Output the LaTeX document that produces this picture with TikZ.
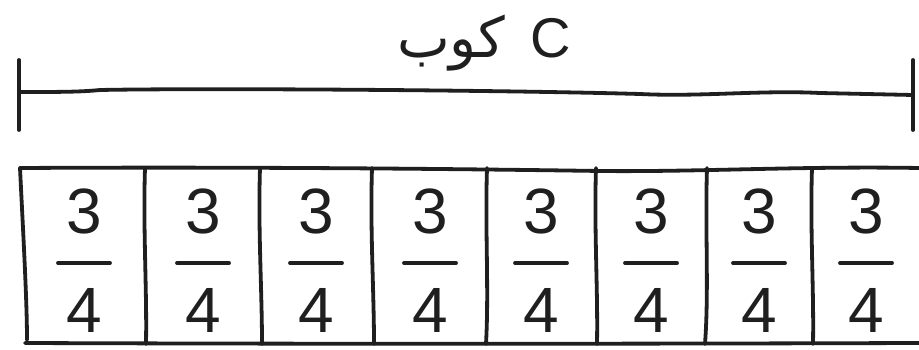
\documentclass[tikz,border=0pt]{standalone}
\usepackage{fontspec}
\setmainfont{Liberation Sans}
\newfontfamily\arabicfont[Script=Arabic]{DejaVu Sans}
\TeXXeTstate=1
\begin{document}
\begin{tikzpicture}[x=1pt,y=-1pt,
  ink/.style={line width=3.8pt,line cap=round,line join=round,color=black!88},
  digit/.style={inner sep=0pt,font=\fontsize{64}{64}\selectfont,text=black!88},
  lbl/.style={inner sep=0pt,font=\fontsize{56}{64}\selectfont,text=black!88}]
\useasboundingbox (0,0) rectangle (919,350);
% label
\node[lbl] (title) at (484,43) {{\arabicfont\beginR كوب\endR}\hspace{0.45em}C};
% bracket
\coordinate (bl) at (19,92);
\coordinate (br) at (913,95);
\draw[ink] (19,60) -- (19,130);
\draw[ink] (913,60) -- (913,130);
\draw[ink] (bl) .. controls (60,92) and (80,92) .. (100,90)
  .. controls (200,88) and (500,90) .. (640,94)
  .. controls (700,97) and (760,90) .. (820,93) -- (br);
% strip
\draw[ink] (919,168) .. controls (800,166) and (700,172) .. (600,171)
  .. controls (400,168) and (200,167) .. (20,168)
  .. controls (23,230) and (27,300) .. (27,340);
\draw[ink] (25,343) .. controls (300,344) and (600,344) .. (919,343);
\foreach \x/\xb in {145/146,260/262,372/374,487/486,596/597,707/705,812/813}
  \draw[ink] (\x,168) .. controls (\x-2,230) and (\x+2,290) .. (\xb,344);
% fractions
\foreach \i/\c in {1/84,2/203,3/316,4/430,5/541,6/651,7/759,8/866}{
  \node[digit] (t\i) at (\c,211) {3};
  \node[digit] (b\i) at (\c,310) {4};
  \draw[ink] (\c-26,263) -- (\c+26,263);
}
\end{tikzpicture}
\end{document}
